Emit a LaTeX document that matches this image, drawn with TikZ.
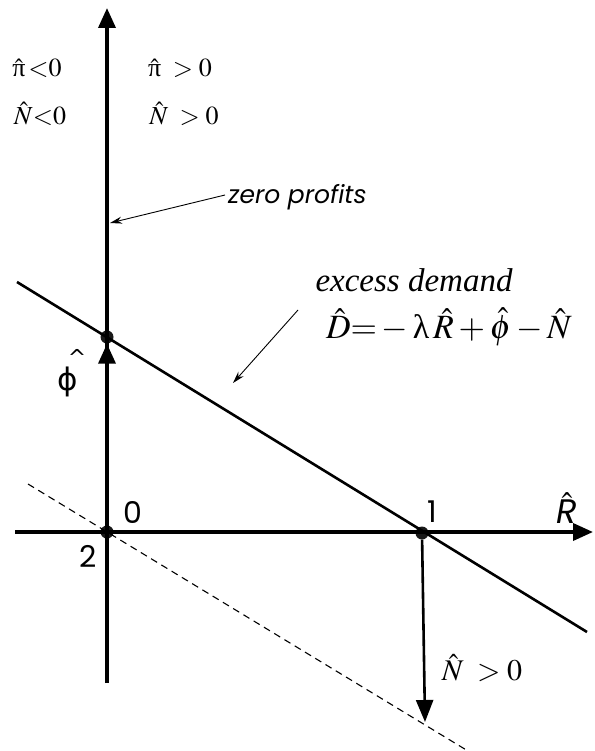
\documentclass[tikz,border=0pt]{standalone}
\usepackage{mathptmx}
\usepackage[no-math]{fontspec}
\setmainfont{Liberation Serif}
\newfontfamily\gothic{Poppins}
\newfontfamily\greeksans{DejaVu Sans}
\usepackage{tikz}
\usetikzlibrary{positioning, arrows.meta, calc}

\begin{document}
\begin{tikzpicture}[
    x=1pt, y=-1pt,
    axis/.style={line width=3.6pt, -{Triangle[length=20pt,width=17pt]}},
    curve/.style={line width=2.6pt},
    shifted/.style={line width=1.1pt, dash pattern=on 7pt off 5pt},
    leader/.style={line width=0.9pt, -{Stealth[length=12pt,width=7pt]}},
    dot/.style={circle, fill=black!90, inner sep=0pt, minimum size=13pt},
    sign/.style={font=\fontsize{26}{28}\selectfont, inner sep=0pt},
    big/.style={font=\fontsize{32}{36}\selectfont, inner sep=0pt},
    tick/.style={font=\gothic\fontsize{30}{32}\selectfont, inner sep=0pt}
]
\useasboundingbox (0,0) rectangle (594,751);

% points on the axes
\node[dot] (O) at (107,532) {};
\node[dot] (P) at (107,337) {};
\node[dot] (Q) at (422,533) {};
\coordinate (top) at (107,8);
\coordinate (bottom) at (107,683);
\coordinate (left) at (15,532);
\coordinate (right) at (593,532);
\coordinate (ED1) at (17,282);
\coordinate (ED2) at (587,632);
\coordinate (SH1) at (28,484);
\coordinate (SH2) at (468,751);
\coordinate (Nend) at (425,722);

% lines
\draw[shifted] (SH1) -- (SH2);
\draw[curve] (ED1) -- (ED2);
\draw[axis] (bottom) -- (top);
\draw[axis] (left) -- (right);
\draw[line width=3.6pt, -{Triangle[length=20pt,width=17pt]}] (O) -- (P);
\draw[line width=2.6pt, -{Triangle[length=22pt,width=17pt]}] (Q) -- (Nend);

% sign regions
\node[sign] (pineg) at (37,68) {$\hat{\mbox{π}}\,{<}0$};
\node[sign] (Nneg) at (40,114) {$\hat{N}{<}0$};
\node[sign] (pipos) at (180,68) {$\hat{\mbox{π}}\;>0$};
\node[sign] (Npos) at (184,114) {$\hat{N}\;>0$};

% labels of the curves
\node[anchor=west, inner sep=0pt, font=\gothic\itshape\fontsize{25}{28}\selectfont] (zp) at (228,197) {zero profits};
\draw[leader] (225,195) -- (110,223);
\node[big, font=\itshape\fontsize{33}{36}\selectfont] (ed) at (414,280) {excess demand};
\node[big, font=\fontsize{34}{38}\selectfont] (eq) at (449,327) {$\hat{D}{=}-\mbox{λ}\,\hat{R}+\hat{\phi}-\hat{N}$};
\draw[leader] (298,310) -- (233,383);

% axis labels
\node[inner sep=0pt, font=\greeksans\fontsize{31}{32}\selectfont] (phi) at (68,382) {ϕ};
\node[inner sep=0pt, font=\greeksans\fontsize{22}{24}\selectfont] (phihat) at (77,357) {\^{}};
\node[tick] (zero) at (133,512) {0};
\node[tick] (two) at (88,556) {2};
\node[tick] (one) at (432,512) {1};
\node[inner sep=0pt, font=\fontsize{34}{36}\selectfont] (R) at (567,508) {$\hat{\mbox{\gothic\itshape R}}$};
\node[inner sep=0pt, font=\fontsize{30}{34}\selectfont] (Ndown) at (482,668) {$\hat{N}\;>0$};
\end{tikzpicture}
\end{document}
